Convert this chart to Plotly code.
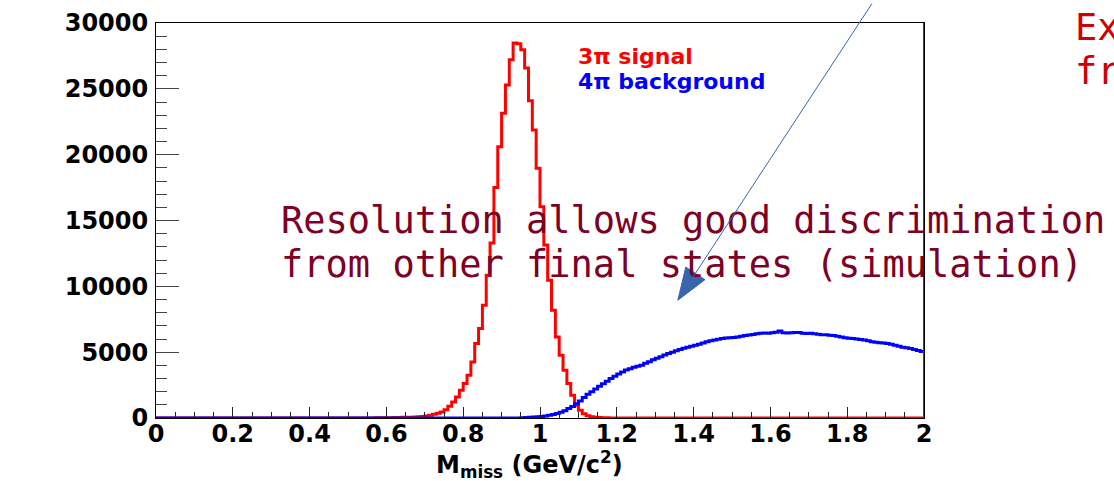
import numpy as np
import plotly.graph_objects as go

# ---------------- data ----------------
bin_low = np.round(np.arange(200) * 0.01, 2)   # bin lower edges, 0.00 ... 1.99 (GeV/c^2)
x_max = 2.0

signal_3pi = [
    0, 0, 0, 0, 0, 0, 0, 0, 0, 0,
    0, 0, 0, 0, 0, 0, 0, 0, 0, 0,
    0, 0, 0, 0, 0, 0, 0, 0, 0, 0,
    0, 0, 0, 0, 0, 0, 0, 0, 0, 0,
    0, 0, 0, 0, 0, 0, 0, 0, 0, 0,
    0, 0, 0, 0, 0, 5, 8, 10, 14, 18,
    22, 27, 33, 40, 48, 56, 65, 75, 90, 110,
    150, 200, 280, 360, 460, 634, 890, 1217, 1600, 2107,
    2615, 3250, 4260, 5660, 6800, 8570, 10850, 13300, 17500, 20600,
    23150, 25300, 27200, 28480, 28420, 27970, 26580, 24100, 21880, 18970,
    16050, 13140, 10470, 8190, 6160, 4770, 3630, 2615, 1730, 966,
    586, 330, 180, 100, 60, 35, 20, 12, 7, 4,
    2, 1, 0, 0, 0, 0, 0, 0, 0, 0,
    0, 0, 0, 0, 0, 0, 0, 0, 0, 0,
    0, 0, 0, 0, 0, 0, 0, 0, 0, 0,
    0, 0, 0, 0, 0, 0, 0, 0, 0, 0,
    0, 0, 0, 0, 0, 0, 0, 0, 0, 0,
    0, 0, 0, 0, 0, 0, 0, 0, 0, 0,
    0, 0, 0, 0, 0, 0, 0, 0, 0, 0,
    0, 0, 0, 0, 0, 0, 0, 0, 0, 0,
]

background_4pi = [
    0, 0, 0, 0, 0, 0, 0, 0, 0, 0,
    0, 0, 0, 0, 0, 0, 0, 0, 0, 0,
    0, 0, 0, 0, 0, 0, 0, 0, 0, 0,
    0, 0, 0, 0, 0, 0, 0, 0, 0, 0,
    0, 0, 0, 0, 0, 0, 0, 0, 0, 0,
    0, 0, 0, 0, 0, 0, 0, 0, 0, 0,
    0, 0, 0, 0, 0, 0, 0, 0, 0, 0,
    0, 0, 0, 0, 0, 0, 0, 0, 0, 0,
    0, 0, 0, 0, 0, 0, 0, 0, 0, 0,
    0, 0, 0, 0, 5, 15, 30, 50, 70, 90,
    120, 150, 200, 260, 340, 440, 560, 720, 880, 1080,
    1300, 1550, 1800, 2000, 2200, 2420, 2600, 2800, 3000, 3180,
    3350, 3500, 3650, 3750, 3850, 3930, 4010, 4150, 4280, 4420,
    4530, 4650, 4780, 4900, 5000, 5100, 5200, 5290, 5380, 5450,
    5530, 5600, 5700, 5800, 5860, 5920, 5990, 6040, 6070, 6100,
    6120, 6150, 6210, 6270, 6300, 6350, 6390, 6430, 6460, 6440,
    6480, 6520, 6600, 6470, 6460, 6470, 6500, 6490, 6440, 6420,
    6430, 6400, 6370, 6330, 6330, 6290, 6260, 6200, 6150, 6090,
    6050, 6040, 6000, 5960, 5920, 5860, 5800, 5760, 5720, 5690,
    5660, 5600, 5520, 5440, 5380, 5330, 5280, 5200, 5120, 5060,
]

legend_labels = ["3\u03c0 signal", "4\u03c0 background"]
x_title = "<b>M<sub>miss</sub> (GeV/c<sup>2</sup>)</b>"
note_lines = ["Resolution allows good discrimination",
              "from other final states (simulation)"]
corner_lines = ["Ex", "fr"]

# ---------------- figure ----------------
edges = np.append(bin_low, x_max)


def step_trace(counts, color):
    y = list(counts) + [counts[-1]]
    return go.Scatter(x=edges, y=y, mode="lines", line_shape="hv",
                      line=dict(color=color, width=3), hoverinfo="skip")


fig = go.Figure()
fig.add_trace(step_trace(signal_3pi, "#ff0000"))
fig.add_trace(step_trace(background_4pi, "#0000ff"))

tick_font = dict(family="DejaVu Sans", size=24, color="black", weight="bold")

fig.update_layout(
    width=1114, height=481,
    margin=dict(l=156, r=190, t=23, b=63),
    paper_bgcolor="white", plot_bgcolor="white",
    showlegend=False,
    xaxis=dict(
        range=[0, x_max], tickmode="linear", tick0=0, dtick=0.2,
        ticks="inside", ticklen=11, tickwidth=1, tickcolor="#222",
        minor=dict(dtick=0.05, ticks="inside", ticklen=6, tickcolor="#222", tickwidth=1),
        showline=True, linecolor="black", linewidth=1, mirror=True,
        showgrid=False, zeroline=False, tickfont=tick_font, ticklabelstandoff=-6,
        automargin=False,
    ),
    yaxis=dict(
        range=[0, 30000], tickmode="linear", tick0=0, dtick=5000, tickformat="d",
        ticks="inside", ticklen=23, tickwidth=1, tickcolor="#444",
        minor=dict(dtick=1000, ticks="inside", ticklen=11, tickcolor="#444", tickwidth=1),
        showline=True, linecolor="black", linewidth=1, mirror=True,
        showgrid=False, zeroline=False, tickfont=tick_font, ticklabelstandoff=2,
        automargin=False,
    ),
)

# x-axis title (placed as an annotation to sit just below the tick labels)
fig.add_annotation(xref="paper", yref="paper", x=(529 - 156) / 768, y=(418 - 464) / 395,
                   xanchor="center", yanchor="middle", showarrow=False, text=x_title,
                   font=dict(family="DejaVu Sans", size=24, color="black"))

# red edge line at the right of the frame
fig.add_shape(type="line", xref="x", yref="paper", x0=x_max, x1=x_max, y0=0, y1=1,
              line=dict(color="#e00000", width=2), layer="above")

# legend texts
fig.add_annotation(xref="paper", yref="paper", x=(576 - 156) / 768, y=(418 - 56) / 395,
                   xanchor="left", yanchor="middle", showarrow=False,
                   text="<b>" + legend_labels[0] + "</b>",
                   font=dict(family="DejaVu Sans", size=22, color="#ff0000"))
fig.add_annotation(xref="paper", yref="paper", x=(576 - 156) / 768, y=(418 - 81) / 395,
                   xanchor="left", yanchor="middle", showarrow=False,
                   text="<b>" + legend_labels[1] + "</b>",
                   font=dict(family="DejaVu Sans", size=22, color="#0000ff"))

# overlaid slide note
note_color = "#7d0025"
for i, line in enumerate(note_lines):
    fig.add_annotation(xref="paper", yref="paper", x=(279 - 156) / 768,
                       y=(418 - (220 + 44 * i)) / 395,
                       xanchor="left", yanchor="middle", showarrow=False, text=line,
                       font=dict(family="DejaVu Sans Mono", size=37, color=note_color))

for i, line in enumerate(corner_lines):
    fig.add_annotation(xref="paper", yref="paper", x=(1073 - 156) / 768,
                       y=(418 - (28 + 43 * i)) / 395,
                       xanchor="left", yanchor="middle", showarrow=False, text=line,
                       font=dict(family="DejaVu Sans Mono", size=37, color="#d00000"))

# arrow: thin line plus a filled triangular head
arrow_color = "#3766ad"
tip_x, tip_y = 1.359, 8950
tail_dx, tail_dy = 195, -298     # pixel offset of the tail from the tip (screen coords)
fig.add_annotation(x=tip_x, y=tip_y, xref="x", yref="y", ax=tail_dx, ay=tail_dy,
                   axref="pixel", ayref="pixel", text="", showarrow=True,
                   arrowhead=0, arrowwidth=1, arrowcolor=arrow_color, standoff=0)

L = np.hypot(tail_dx, tail_dy)
ux, uy = tail_dx / L, -tail_dy / L        # unit vector toward tail, y up
px, py = -uy, ux
head_len, head_half = 32, 11.5
bx, by = ux * head_len, uy * head_len
c1 = (bx + px * head_half, by + py * head_half)
c2 = (bx - px * head_half, by - py * head_half)
path = f"M0,0 L{c1[0]:.1f},{c1[1]:.1f} L{c2[0]:.1f},{c2[1]:.1f} Z"
fig.add_shape(type="path", xref="x", yref="y", xsizemode="pixel", ysizemode="pixel",
              xanchor=tip_x, yanchor=tip_y, path=path,
              fillcolor=arrow_color, line=dict(color=arrow_color, width=1), layer="above")

fig.write_html("out.html")
